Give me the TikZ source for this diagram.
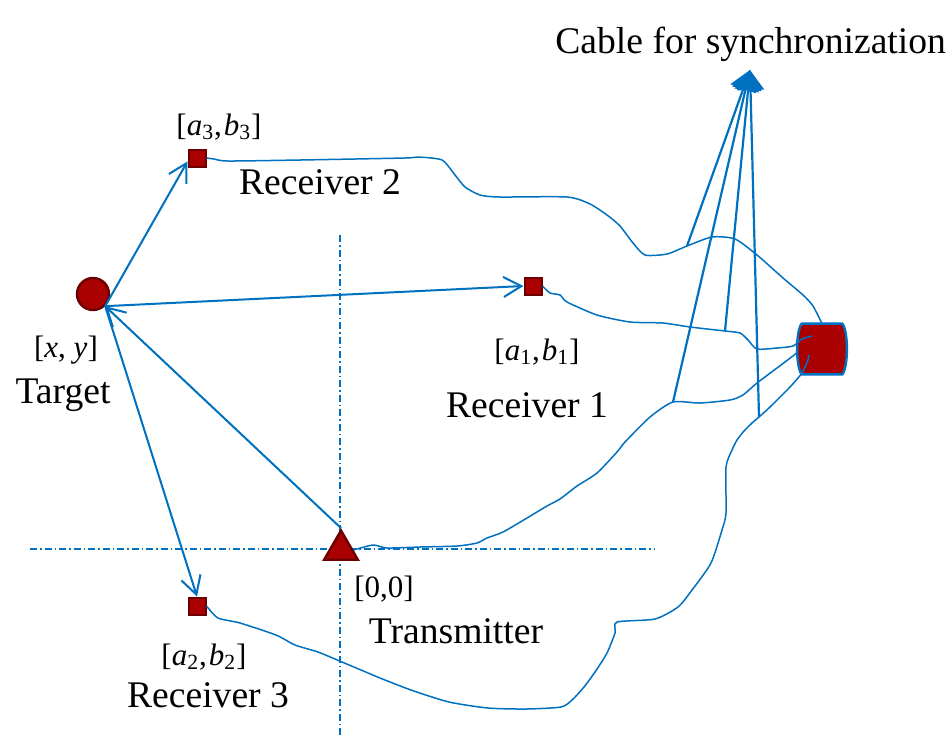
\documentclass[tikz,border=0pt]{standalone}
\usepackage{fontspec}
\setmainfont{Liberation Serif}
\usetikzlibrary{positioning,arrows.meta,shapes.geometric}
\definecolor{sigblue}{HTML}{0070C0}
\definecolor{rxred}{HTML}{AA0000}
\definecolor{rxdark}{HTML}{6B0000}
\newcommand{\crd}[4]{[\textit{#1}\textsubscript{#2},\kern1pt\textit{#3}\textsubscript{#4}]}
\tikzset{
    rx/.style={rectangle,draw=rxdark,fill=rxred,line width=1pt,minimum size=8.5pt,inner sep=0pt},
    target/.style={circle,draw=rxdark,fill=rxred,line width=1.2pt,minimum size=16pt,inner sep=0pt},
    tx/.style={regular polygon,regular polygon sides=3,draw=rxdark,fill=rxred,line width=1.2pt,minimum size=19.5pt,inner sep=0pt},
    hub/.style={rectangle,minimum width=20pt,minimum height=25pt,inner sep=0pt},
    hubbody/.style={draw=sigblue,fill=rxred,line width=1.2pt,line join=round},
    lbl/.style={anchor=base,inner sep=0pt,font=\fontsize{18.8}{20}\selectfont},
    crdlbl/.style={anchor=base,inner sep=0pt,font=\fontsize{15.5}{17}\selectfont},
    sig/.style={draw=sigblue,line width=1pt,-{Straight Barb[length=9pt,width=10pt]}},
    cable/.style={draw=sigblue,line width=0.75pt},
    sync/.style={draw=sigblue,line width=1.1pt,-{Triangle[length=10pt,width=13.5pt]}},
    axis/.style={draw=sigblue,line width=0.75pt,dash pattern=on 3.5pt off 1.5pt on 0.75pt off 1.5pt},
}

\begin{document}
\begin{tikzpicture}[x=0.5pt,y=-0.5pt]
    \useasboundingbox (0,0) rectangle (946,735);
    \path[axis] (30,549) -- (655,549);
    \path[axis] (340,235) -- (340,735);

    \node[target] (tgt) at (93,294) {};
    \node[rx] (rxtwo) at (197,158) {};
    \node[rx] (rxone) at (533,286) {};
    \node[rx] (rxthree) at (197,606) {};
    \node[tx] (tx) at (341,550) {};
    \node[hub] (hub) at (822,349) {};
    \path[hubbody] (hub.north west) -- (hub.north east)
        .. controls +(3pt,-4pt) and +(3pt,4pt) .. (hub.south east)
        -- (hub.south west)
        .. controls +(-3pt,4pt) and +(-3pt,-4pt) .. (hub.north west) -- cycle;

    \node[crdlbl] (tgtxy) at (66,357) {[\textit{x}, \textit{y}]};
    \node[lbl] (tgtname) at (63,403) {Target};
    \node[crdlbl] (rxtwoxy) at (219,135) {\crd{a}{3}{b}{3}};
    \node[lbl] (rxtwoname) at (320,194) {Receiver 2};
    \node[crdlbl] (rxonexy) at (537,360) {\crd{a}{1}{b}{1}};
    \node[lbl] (rxonename) at (527,417) {Receiver 1};
    \node[crdlbl] (txxy) at (384,597) {[0,0]};
    \node[lbl] (txname) at (456,643) {Transmitter};
    \node[crdlbl] (rxthreexy) at (204,665) {\crd{a}{2}{b}{2}};
    \node[lbl] (rxthreename) at (208,707) {Receiver 3};
    \node[lbl,anchor=base west] (synclbl) at (555,53) {Cable for synchronization};

    \coordinate (synctip) at (750,70);
    \coordinate (jtwo) at (687,246);
    \coordinate (jone) at (725,331);
    \coordinate (jthree) at (673,402);
    \coordinate (jfour) at (759,417);

    \draw[cable] plot[smooth,tension=0.4] coordinates {(rxtwo.east) (214,159) (228,161) (300,160) (405,158) (418,157) (442,160) (455,175) (465,187) (480,195) (500,197) (567,197) (590,204) (607,215) (620,226) (633,243) (645,255) (667,254) (jtwo) (712,237) (735,239) (757,255) (783,278) (803,295) (813,306) (hub.north)};
    \draw[cable] plot[smooth,tension=0.4] coordinates {(rxone.east) (550,293) (560,295) (567,302) (597,315) (630,322) (663,323) (690,327) (jone) (740,333) (748,340) (757,349) (777,348) (793,346) (802,339) ([shift={(-10,-13)}]hub.center)};
    \draw[cable] plot[smooth,tension=0.4] coordinates {(tx.east) (373,545) (387,548) (420,547) (457,546) (477,543) (487,538) (503,532) (527,518) (547,506) (560,499) (577,486) (597,473) (617,452) (625,442) (650,417) (jthree) (700,403) (730,400) (743,395) (757,383) (785,362) ([shift={(-24,3)}]hub.center)};
    \draw[cable] plot[smooth,tension=0.4] coordinates {(rxthree.east) (218,618) (240,623) (276,635) (295,645) (318,652) (342,662) (361,670) (380,678) (411,690) (449,702) (488,708) (526,709) (561,707) (572,700) (584,687) (595,672) (607,653) (615,633) (617,622) (655,619) (678,607) (692,590) (711,563) (722,530) (726,513) (726,467) (732,450) (737,440) (744,431) (752,423) (jfour) (770,407) (790,387) (802,373) (808,360) ([shift={(-13,6)}]hub.center)};

    \path[sync] (jtwo) -- (synctip);
    \path[sync] (jone) -- (synctip);
    \path[sync] (jthree) -- (synctip);
    \path[sync] (jfour) -- (synctip);

    \path[sig] (tgt.-45) -- (rxtwo.-160);
    \path[sig] (tgt.-45) -- (rxone.west);
    \path[sig] (tgt.-45) -- (rxthree.north);
    \path[sig] (tx.corner 1) -- (tgt.-45);
\end{tikzpicture}
\end{document}
